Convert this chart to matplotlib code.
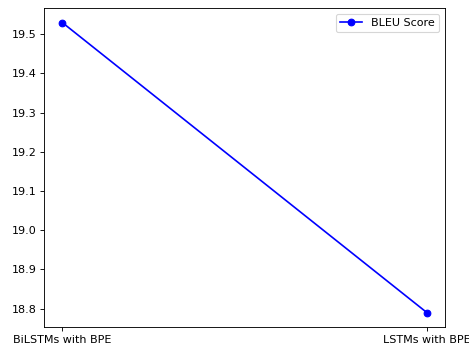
import matplotlib
matplotlib.use("Agg")
import matplotlib.pyplot as plt

models = ["BiLSTMs with BPE", "LSTMs with BPE"]
bleu = [19.53, 18.79]

DPI = 80
fig = plt.figure(figsize=(469/DPI, 349/DPI), dpi=DPI)
ax = fig.add_axes([44/469, 1-327/349, (445-44)/469, (327-8)/349])
ax.plot(models, bleu, marker='o', color='blue', label='BLEU Score')
ax.legend(loc='upper right')
fig.savefig("out.png", dpi=DPI)
